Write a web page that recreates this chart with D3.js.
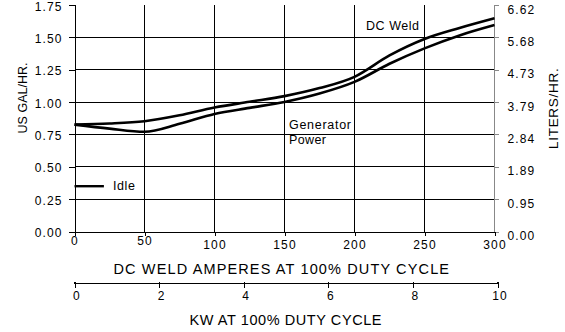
<!DOCTYPE html>
<html><head><meta charset="utf-8">
<script src="https://cdn.jsdelivr.net/npm/d3@7/dist/d3.min.js"></script>
<style>
body{margin:0;background:#fff}
svg{display:block}
text{font-family:"Liberation Sans",Arial,Helvetica,sans-serif;fill:#000}
</style>
</head><body>
<svg id="c" width="565" height="332"></svg>
<script>
// ---- data ----
const amps = [0,25,50,75,100,125,150,175,200,225,250,275,300];
const dcWeld = [0.826,0.834,0.852,0.898,0.958,1.002,1.046,1.108,1.195,1.360,1.487,1.572,1.647];
const genPower = [0.826,0.795,0.771,0.832,0.908,0.955,1.001,1.066,1.156,1.296,1.415,1.515,1.595];
const idleValue = 0.35;
const galTicks = [0,0.25,0.5,0.75,1.0,1.25,1.5,1.75];
const literLabels = ["0.00","0.95","1.89","2.84","3.79","4.73","5.68","6.62"];
const ampTicks = [0,50,100,150,200,250,300];
const kwTicks = [0,2,4,6,8,10];

// ---- layout ----
const svg = d3.select("#c");
const x = d3.scaleLinear([0,300],[74.5,494.5]);
const y = d3.scaleLinear([0,1.75],[231.5,5]);
const kw = d3.scaleLinear([0,10],[74.5,497.5]);
const tickFont = "Liberation Sans, Arial, sans-serif";

// grid
const grid = svg.append("g").attr("shape-rendering","crispEdges");
grid.selectAll("line.h").data(galTicks.filter(d=>d>0 && d<1.75)).join("line")
  .attr("x1",x(0)).attr("x2",x(300)).attr("y1",d=>y(d)).attr("y2",d=>y(d))
  .attr("stroke","#000").attr("stroke-width",1);
grid.selectAll("line.v").data(ampTicks.filter(d=>d>0 && d<300)).join("line")
  .attr("y1",y(0)).attr("y2",y(1.75)).attr("x1",d=>x(d)).attr("x2",d=>x(d))
  .attr("stroke","#000").attr("stroke-width",1);
grid.append("line").attr("x1",x(300)).attr("x2",x(300)).attr("y1",y(0)).attr("y2",y(1.75))
  .attr("stroke","#888").attr("stroke-width",1);

// left axis
const gl = svg.append("g").attr("transform",`translate(${x(0)},0)`)
  .call(d3.axisLeft(y).tickValues(galTicks).tickFormat(d3.format(".2f")).tickSize(6).tickPadding(6));
gl.select(".domain").attr("stroke","#000").attr("shape-rendering","crispEdges");
gl.selectAll(".tick line").attr("stroke","#000").attr("shape-rendering","crispEdges");
gl.selectAll(".tick text").attr("font-size",12).attr("letter-spacing","1.1px")
  .attr("font-family",tickFont).attr("dy","0.42em");

// right axis
const gr = svg.append("g").attr("transform",`translate(${x(300)},0)`)
  .call(d3.axisRight(y).tickValues(galTicks).tickFormat((d,i)=>literLabels[i]).tickSize(4).tickPadding(9));
gr.select(".domain").remove();
gr.selectAll(".tick line").attr("stroke","#888").attr("shape-rendering","crispEdges");
gr.selectAll(".tick text").attr("font-size",12).attr("letter-spacing","1.1px")
  .attr("font-family",tickFont).attr("dy","0.68em");

// bottom amps axis
const gb = svg.append("g").attr("transform",`translate(0,${y(0)})`)
  .call(d3.axisBottom(x).tickValues(ampTicks).tickFormat(d3.format("d")).tickSize(4).tickPadding(6));
gb.select(".domain").attr("stroke","#000").attr("shape-rendering","crispEdges");
gb.selectAll(".tick line").attr("stroke","#000").attr("shape-rendering","crispEdges");
gb.selectAll(".tick text").attr("font-size",12).attr("letter-spacing","1.1px")
  .attr("font-family",tickFont)
  .attr("dy",d=> d<100 ? "0.3em" : "0.65em");

// kw axis
const gk = svg.append("g").attr("transform","translate(0,283.5)")
  .call(d3.axisBottom(kw).tickValues(kwTicks).tickFormat(d3.format("d")).tickSize(4).tickPadding(5));
gk.select(".domain").attr("stroke","#000").attr("d",`M${kw(0)},-2V0H${kw(10)}V-2`).attr("shape-rendering","crispEdges");
gk.selectAll(".tick line").attr("stroke","#000").attr("y1",-2).attr("shape-rendering","crispEdges");
gk.selectAll(".tick text").attr("font-size",12).attr("letter-spacing","1.1px")
  .attr("font-family",tickFont).attr("dx","2").attr("dy","0.65em");

// curves
const line = d3.line().x((d,i)=>x(amps[i])).y(d=>y(d)).curve(d3.curveMonotoneX);
svg.append("path").datum(dcWeld).attr("d",line).attr("fill","none").attr("stroke","#000").attr("stroke-width",2.6);
svg.append("path").datum(genPower).attr("d",line).attr("fill","none").attr("stroke","#000").attr("stroke-width",2.6);

// idle
svg.append("line").attr("x1",x(0)).attr("x2",x(21)).attr("y1",y(idleValue)).attr("y2",y(idleValue))
  .attr("stroke","#000").attr("stroke-width",2.4);
svg.append("text").attr("x",113).attr("y",190).attr("font-size",12.5).attr("letter-spacing","0.6px").text("Idle");

// series labels
svg.append("text").attr("x",366).attr("y",30).attr("font-size",12.5).attr("textLength",53).text("DC Weld");
svg.append("text").attr("x",289).attr("y",129).attr("font-size",12.5).attr("textLength",62).text("Generator");
svg.append("text").attr("x",289).attr("y",144).attr("font-size",12.5).attr("textLength",37).text("Power");

// axis titles
svg.append("text").attr("x",113.5).attr("y",274).attr("font-size",14.5).attr("textLength",335.5).text("DC WELD AMPERES AT 100% DUTY CYCLE");
svg.append("text").attr("x",189.5).attr("y",325).attr("font-size",14.5).attr("textLength",192).text("KW AT 100% DUTY CYCLE");
svg.append("text").attr("transform","translate(26.5,98) rotate(-90)").attr("text-anchor","middle").attr("font-size",12.5).text("US GAL/HR.");
svg.append("text").attr("transform","translate(557.5,149) rotate(-90)").attr("font-size",13.5).attr("textLength",80.7).text("LITERS/HR.");
</script>
</body></html>
